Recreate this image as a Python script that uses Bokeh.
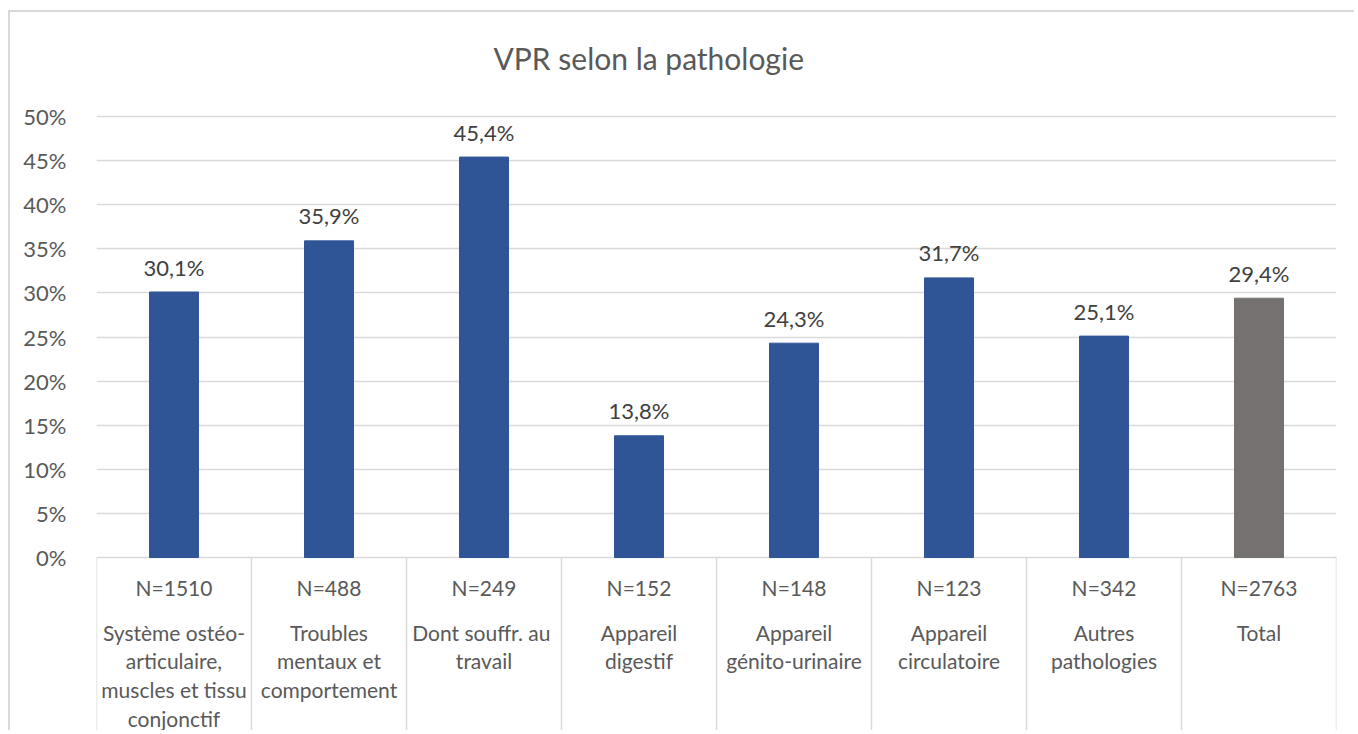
from bokeh.plotting import figure
from bokeh.models import FactorRange, Range1d, FixedTicker, NumeralTickFormatter, ColumnDataSource
from bokeh.core.properties import value
from bokeh.embed import file_html
from bokeh.resources import INLINE

# ---- data ----
categories = [
    "Système ostéo-\narticulaire,\nmuscles et tissu\nconjonctif",
    "Troubles\nmentaux et\ncomportement",
    "Dont souffr.  au\ntravail",
    "Appareil\ndigestif",
    "Appareil\ngénito-urinaire",
    "Appareil\ncirculatoire",
    "Autres\npathologies",
    "Total",
]
n_labels = ["N=1510", "N=488", "N=249", "N=152", "N=148", "N=123", "N=342", "N=2763"]
vpr = [0.301, 0.359, 0.454, 0.138, 0.243, 0.317, 0.251, 0.294]
bar_colors = ["#2F5597"] * 7 + ["#767171"]
y_ticks = [0, 0.05, 0.10, 0.15, 0.20, 0.25, 0.30, 0.35, 0.40, 0.45, 0.50]
title_text = "VPR selon la pathologie"

FONT = "Lato"
GRID = "#D9D9D9"
TXT = "#595959"

px_per_unit = 882.0
y_start = -175 / px_per_unit
y_end = 0.5 + 16 / px_per_unit

p = figure(
    width=1346, height=720,
    x_range=FactorRange(factors=categories, range_padding=0),
    y_range=Range1d(y_start, y_end),
    output_backend="svg", toolbar_location=None,
    x_axis_location=None,
    min_border_left=86, min_border_right=20, min_border_top=78, min_border_bottom=0,
    title=title_text,
)
p.styles = {"border-left": f"2px solid {GRID}", "border-top": f"2px solid {GRID}",
            "margin-top": "10px", "margin-left": "8px"}
p.outline_line_color = None
p.background_fill_color = "white"
p.border_fill_color = "white"

p.title.text_font = FONT
p.title.text_font_size = "30px"
p.title.text_font_style = "normal"
p.title.text_color = TXT
p.title.align = "left"
p.title.offset = 397
p.title.standoff = 50

# y axis
p.yaxis.ticker = FixedTicker(ticks=y_ticks)
p.yaxis.formatter = NumeralTickFormatter(format="0%")
p.yaxis.axis_line_color = None
p.yaxis.major_tick_line_color = None
p.yaxis.minor_tick_line_color = None
p.yaxis.major_label_text_font = FONT
p.yaxis.major_label_text_font_size = "22px"
p.yaxis.major_label_text_color = TXT
p.yaxis.major_label_standoff = 24

p.xgrid.visible = False
p.ygrid.ticker = FixedTicker(ticks=y_ticks)
p.ygrid.grid_line_color = GRID
p.ygrid.grid_line_width = 1.5

# bars
src = ColumnDataSource(dict(
    cat=categories, v=vpr, color=bar_colors,
    lbl=[f"{v*100:.1f}%".replace(".", ",") for v in vpr],
    lbl_y=[v + 25 / px_per_unit for v in vpr],
    n=n_labels,
))
p.vbar(x="cat", top="v", bottom=0, width=0.316, color="color", source=src)

# data labels
p.text(x="cat", y="lbl_y", text="lbl", source=src, text_align="center", text_baseline="middle",
       text_font=value(FONT), text_font_size="22px", text_color="#404040")

# table separators below the axis
bounds = list(range(len(categories) + 1))
p.segment(x0=bounds, y0=[0] * len(bounds), x1=bounds, y1=[y_start - 0.05] * len(bounds),
          line_color=GRID, line_width=1.5)

# N labels and category names
p.text(x="cat", y=-30 / px_per_unit, text="n", source=src, text_align="center", text_baseline="middle",
       text_font=value(FONT), text_font_size="21px", text_color=TXT)
p.text(x="cat", y=-62 / px_per_unit, text="cat", source=src, text_align="center", text_baseline="top",
       text_font=value(FONT), text_font_size="21px", text_color=TXT, text_line_height=1.15)

open("out.html", "w").write(file_html(p, INLINE))
